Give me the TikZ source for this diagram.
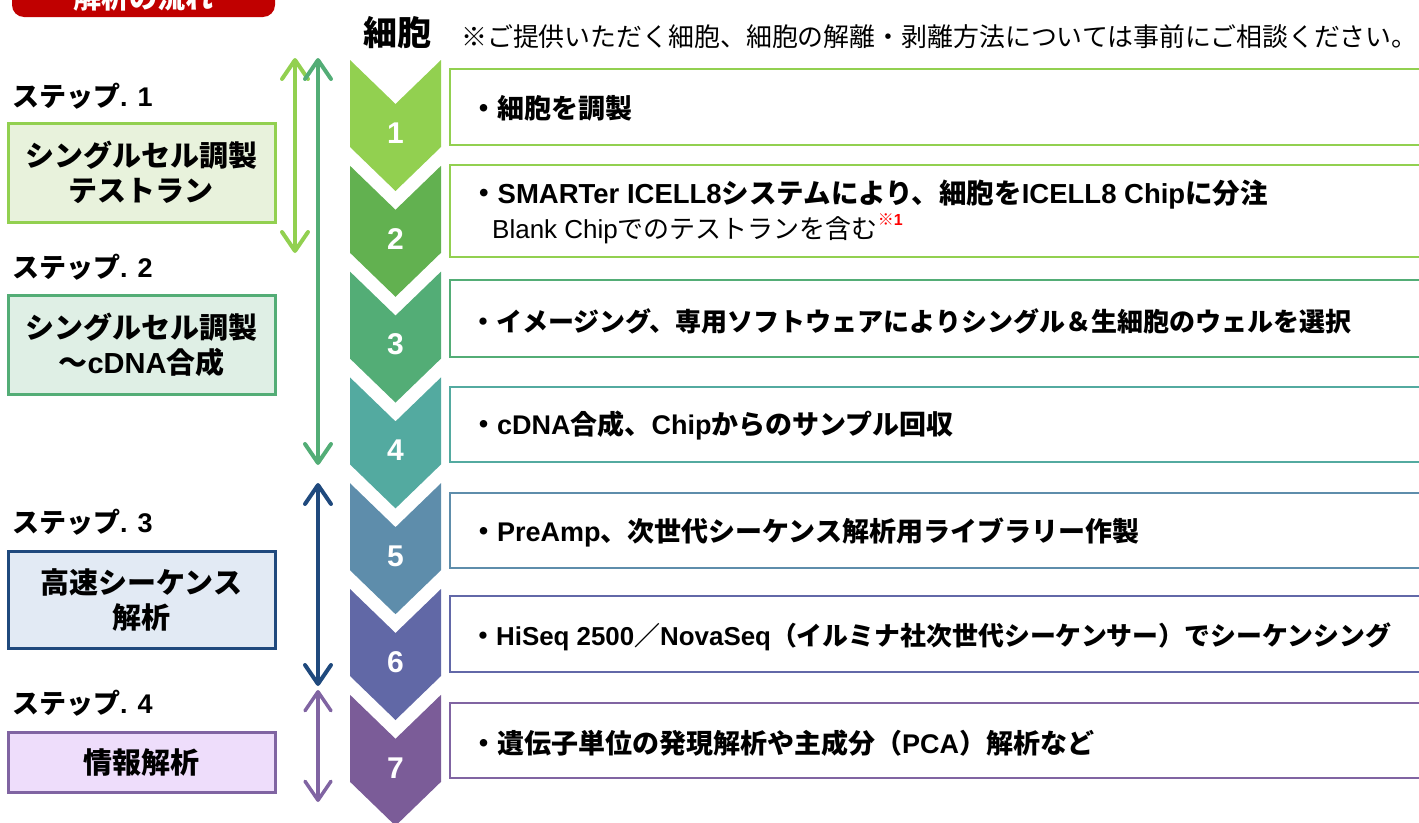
\documentclass[tikz,border=0pt]{standalone}
\usepackage{fontspec}
\setmainfont{Liberation Sans}
\newfontfamily\jpf{Noto Sans CJK JP}
\usetikzlibrary{arrows.meta}
\newcommand\J[1]{{\jpf #1}}
\definecolor{tabred}{HTML}{C00000}
\definecolor{ch1}{HTML}{92D050}
\definecolor{ch2}{HTML}{62B150}
\definecolor{ch3}{HTML}{53AD76}
\definecolor{ch4}{HTML}{53AAA0}
\definecolor{ch5}{HTML}{5E8DAB}
\definecolor{ch6}{HTML}{6168A6}
\definecolor{ch7}{HTML}{7B5C98}
\definecolor{bx6}{HTML}{6268A8}
\definecolor{bx7}{HTML}{8064A2}
\definecolor{dblue}{HTML}{1F497D}
\definecolor{f1}{HTML}{E8F2DC}
\definecolor{f2}{HTML}{DFEFE5}
\definecolor{f3}{HTML}{E2EAF4}
\definecolor{f4}{HTML}{EEDDFB}
\begin{document}
\begin{tikzpicture}[x=1pt,y=-1pt,
  num/.style={text=white,font=\bfseries\fontsize{30}{36}\selectfont},
  rt/.style={anchor=west,font=\bfseries\fontsize{27}{32}\selectfont,inner sep=0pt},
  stl/.style={anchor=west,font=\bfseries\fontsize{27}{32}\selectfont,inner sep=0pt},
  lbox/.style={line width=3pt,minimum width=267pt,align=center,inner sep=0pt,
    font=\bfseries\fontsize{29}{35}\selectfont},
  rbox/.style={line width=2.5pt},
  arr/.style={line width=4pt,{Straight Barb[length=19pt,width=26pt,round]}-{Straight Barb[length=19pt,width=26pt,round]}}
]
\useasboundingbox (0,0) rectangle (1419,822);
\clip (0,0) rectangle (1419,822);

% red tab
\fill[tabred,rounded corners=12pt] (12,-40) rectangle (275,17);
\node[text=white,font=\bfseries\fontsize{28}{34}\selectfont] (tab) at (143,-2) {\J{解析の流れ}};

% header
\node[font=\bfseries\fontsize{34}{40}\selectfont,inner sep=0pt] (hdr) at (397,33) {\J{細胞}};
\node[anchor=west,font=\fontsize{25.9}{30}\selectfont,inner sep=0pt] (note) at (461,37)
  {\J{※ご提供いただく細胞、細胞の解離・剥離方法については事前にご相談ください。}};

% chevrons
\foreach \i/\col in {1/ch1,2/ch2,3/ch3,4/ch4,5/ch5,6/ch6,7/ch7}{
  \pgfmathsetmacro\T{60+105.8*(\i-1)}
  \fill[\col] (350,\T) -- (395.5,\T+44) -- (441,\T) -- (441,\T+87) -- (395.5,\T+131) -- (350,\T+87) -- cycle;
  \node[num] (n\i) at (395.5,\T+73) {\i};
}

% right boxes
\draw[rbox,ch1] (450,69) rectangle (1440,145);
\draw[rbox,ch1] (450,165) rectangle (1440,257);
\draw[rbox,ch3] (450,280) rectangle (1440,357);
\draw[rbox,ch4] (450,387) rectangle (1440,462);
\draw[rbox,ch5] (450,493) rectangle (1440,568);
\draw[rbox,bx6] (450,596) rectangle (1440,672);
\draw[rbox,bx7] (450,703) rectangle (1440,778);

% right texts
\node[rt] (t1) at (470,108) {\J{・細胞を調製}};
\node[rt,font=\bfseries\fontsize{27.5}{32}\selectfont] (t2a) at (470,195) {\J{・}SMARTer ICELL8\J{システムにより、細胞を}ICELL8 Chip\J{に分注}};
\node[anchor=west,inner sep=0pt,font=\fontsize{26}{31}\selectfont] (t2b) at (492,229)
  {Blank Chip\J{でのテストランを含む}\raisebox{0.5em}{\color{red}\bfseries\fontsize{16}{19}\selectfont\J{※}1}};
\node[rt,font=\bfseries\fontsize{26}{31}\selectfont] (t3) at (470,321) {\J{・イメージング、専用ソフトウェアによりシングル＆生細胞のウェルを選択}};
\node[rt] (t4) at (470,426) {\J{・}cDNA\J{合成、}Chip\J{からのサンプル回収}};
\node[rt] (t5) at (470,532) {\J{・}PreAmp\J{、次世代シーケンス解析用ライブラリー作製}};
\node[rt,font=\bfseries\fontsize{25.9}{31}\selectfont] (t6) at (470,637) {\J{・}HiSeq 2500\J{／}NovaSeq\J{（イルミナ社次世代シーケンサー）でシーケンシング}};
\node[rt] (t7) at (470,743) {\J{・遺伝子単位の発現解析や主成分（}PCA\J{）解析など}};

% left step labels
\node[stl] (st1) at (12,96) {\J{ステップ}. 1};
\node[stl] (st2) at (12,267) {\J{ステップ}. 2};
\node[stl] (st3) at (12,522) {\J{ステップ}. 3};
\node[stl] (st4) at (12,703) {\J{ステップ}. 4};

% left boxes
\node[lbox,draw=ch1,fill=f1,minimum height=99pt] (s1) at (141.5,172.5) {\J{シングルセル調製}\\\J{テストラン}};
\node[lbox,draw=ch3,fill=f2,minimum height=99pt] (s2) at (141.5,345) {\J{シングルセル調製}\\\J{～}cDNA\J{合成}};
\node[lbox,draw=dblue,fill=f3,minimum height=97pt] (s3) at (141.5,599.5) {\J{高速シーケンス}\\\J{解析}};
\node[lbox,draw=bx7,fill=f4,minimum height=60pt] (s4) at (141.5,762.5) {\J{情報解析}};

% arrows
\coordinate (a1t) at (295,58); \coordinate (a1b) at (295,253);
\coordinate (a2t) at (318,58); \coordinate (a2b) at (318,465);
\coordinate (a3t) at (318,483); \coordinate (a3b) at (318,686);
\coordinate (a4t) at (318,690); \coordinate (a4b) at (318,802);
\draw[arr,ch1] (a1t) -- (a1b);
\draw[arr,ch3] (a2t) -- (a2b);
\draw[arr,dblue] (a3t) -- (a3b);
\draw[arr,bx7,line width=3.5pt] (a4t) -- (a4b);
\end{tikzpicture}
\end{document}
